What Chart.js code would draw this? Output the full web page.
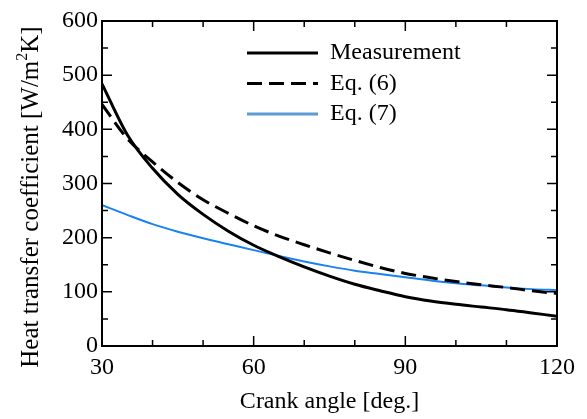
<!DOCTYPE html>
<html lang="en">
  <head>
    <meta charset="UTF-8" />
    <title>Heat transfer coefficient</title>
    <script src="https://cdn.jsdelivr.net/npm/chart.js"></script>
    <style>
      html, body { margin: 0; padding: 0; background: #fff; }
      #wrap { width: 587px; height: 419px; }
    </style>
  </head>
  <body>
    <div id="wrap"><canvas id="chart" width="587" height="419"></canvas></div>
    <script>
      // crank angle [deg.]
      const angles = [30, 35, 40, 45, 50, 55, 60, 65, 70, 75, 80, 85, 90, 95, 100, 105, 110, 115, 120];
      // heat transfer coefficient [W/m2K]
      const measurement = [484, 390, 328, 280, 243, 212, 186, 165, 146, 129, 114, 102, 91, 83, 77, 72, 67, 61, 55];
      const eq6 = [446, 383, 340, 302, 270, 245, 222, 203, 187, 172, 158, 145, 134, 126, 119, 113, 108, 102, 97];
      const eq7 = [260, 242, 225, 211, 199, 188, 177, 166, 156, 147, 139, 133, 127, 121, 116, 112, 108, 105, 103];
      const xTicks = [30, 60, 90, 120];
      const yTicks = [0, 100, 200, 300, 400, 500, 600];

      const FONT = "'Liberation Serif', 'Times New Roman', serif";

      const toPoints = (ys) => angles.map((a, i) => ({ x: a, y: ys[i] }));

      // inward ticks on all four sides plus the frame
      const framePlugin = {
        id: "frame",
        afterDatasetsDraw(chart) {
          const { ctx, chartArea: a, scales } = chart;
          const xs = scales.x, ys = scales.y;
          ctx.save();
          ctx.strokeStyle = "#000";
          ctx.lineWidth = 1.5;
          ctx.beginPath();
          for (let v = xs.min; v <= xs.max; v += 10) {
            const px = xs.getPixelForValue(v);
            const len = xTicks.includes(v) ? 10 : 6;
            ctx.moveTo(px, a.bottom); ctx.lineTo(px, a.bottom - len);
            ctx.moveTo(px, a.top); ctx.lineTo(px, a.top + len);
          }
          for (let v = ys.min; v <= ys.max; v += 50) {
            const py = ys.getPixelForValue(v);
            const len = yTicks.includes(v) ? 10 : 6;
            ctx.moveTo(a.left, py); ctx.lineTo(a.left + len, py);
            ctx.moveTo(a.right, py); ctx.lineTo(a.right - len, py);
          }
          ctx.stroke();
          ctx.lineWidth = 2;
          ctx.strokeRect(a.left, a.top, a.right - a.left, a.bottom - a.top);
          ctx.restore();
        },
        afterDraw(chart) {
          const { ctx } = chart;
          ctx.save();
          // y axis title with superscript
          ctx.translate(31, 197);
          ctx.rotate(-Math.PI / 2);
          ctx.fillStyle = "#000";
          ctx.textBaseline = "middle";
          const p1 = "Heat transfer coefficient [W/m", sup = "2", p2 = "K]";
          ctx.font = "25px " + FONT;
          const w1 = ctx.measureText(p1).width, w3 = ctx.measureText(p2).width;
          ctx.font = "16px " + FONT;
          const w2 = ctx.measureText(sup).width;
          let x = -(w1 + w2 + w3) / 2;
          ctx.font = "25px " + FONT;
          ctx.textAlign = "left";
          ctx.fillText(p1, x, 0);
          x += w1;
          ctx.font = "16px " + FONT;
          ctx.fillText(sup, x, -8);
          x += w2;
          ctx.font = "25px " + FONT;
          ctx.fillText(p2, x, 0);
          ctx.restore();

          // legend
          ctx.save();
          ctx.font = "24px " + FONT;
          ctx.textBaseline = "middle";
          ctx.fillStyle = "#000";
          chart.data.datasets.forEach((ds, i) => {
            const y = 53 + i * 30.5;
            ctx.beginPath();
            ctx.strokeStyle = ds.legendColor || ds.borderColor;
            ctx.lineWidth = 3;
            ctx.setLineDash(ds.borderDash || []);
            ctx.moveTo(247, y);
            ctx.lineTo(318, y);
            ctx.stroke();
            ctx.setLineDash([]);
            ctx.fillText(ds.label, 330, y);
          });
          ctx.restore();
        },
      };

      new Chart(document.getElementById("chart"), {
        type: "line",
        data: {
          datasets: [
            {
              label: "Measurement",
              data: toPoints(measurement),
              borderColor: "#000",
              borderWidth: 3,
            },
            {
              label: "Eq. (6)",
              data: toPoints(eq6),
              borderColor: "#000",
              borderWidth: 3,
              borderDash: [15, 7],
            },
            {
              label: "Eq. (7)",
              data: toPoints(eq7),
              borderColor: "#1a82f0",
              legendColor: "#5b9bd5",
              borderWidth: 2,
            },
          ],
        },
        options: {
          responsive: false,
          animation: false,
          devicePixelRatio: 1,
          layout: { padding: { left: 0, top: 21, right: 30, bottom: 0 } },
          elements: {
            point: { radius: 0 },
            line: { cubicInterpolationMode: "monotone", fill: false },
          },
          plugins: { legend: { display: false }, tooltip: { enabled: false } },
          scales: {
            x: {
              type: "linear",
              min: 30,
              max: 120,
              afterBuildTicks: (s) => { s.ticks = xTicks.map((v) => ({ value: v })); },
              afterFit: (s) => { s.height = 73; },
              grid: { display: false, drawTicks: false },
              border: { display: false },
              ticks: { color: "#000", padding: 7, maxRotation: 0, font: { family: FONT, size: 24 } },
              title: {
                display: true,
                text: "Crank angle [deg.]",
                color: "#000",
                padding: { top: 0, bottom: 3 },
                font: { family: FONT, size: 24 },
              },
            },
            y: {
              min: 0,
              max: 600,
              afterBuildTicks: (s) => { s.ticks = yTicks.map((v) => ({ value: v })); },
              afterFit: (s) => { s.width = 102; },
              grid: { display: false, drawTicks: false },
              border: { display: false },
              ticks: { color: "#000", padding: 4, font: { family: FONT, size: 24 } },
            },
          },
        },
        plugins: [framePlugin],
      });
    </script>
  </body>
</html>
